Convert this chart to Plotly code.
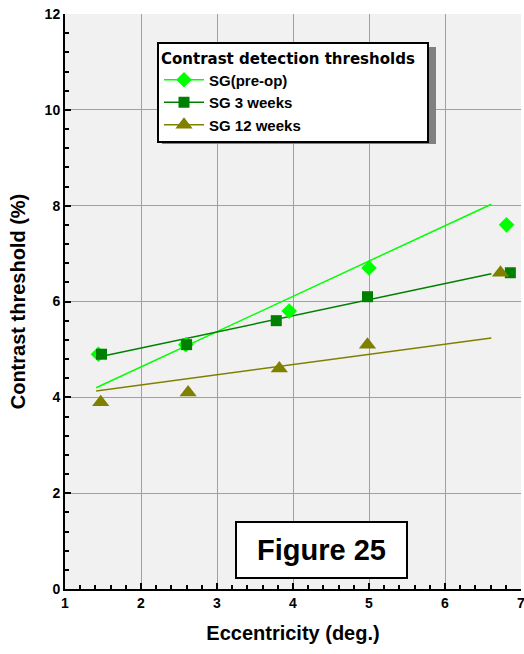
import plotly.graph_objects as go

# ---- data ----
ecc_preop = [1.44, 2.59, 3.95, 5.00, 6.81]
thr_preop = [4.9, 5.1, 5.8, 6.7, 7.6]
ecc_3w = [1.48, 2.60, 3.78, 4.98, 6.86]
thr_3w = [4.9, 5.1, 5.6, 6.1, 6.6]
ecc_12w = [1.47, 2.62, 3.82, 4.98, 6.73]
thr_12w = [3.9, 4.1, 4.6, 5.1, 6.6]

fit_x = [1.41, 6.61]
fit_preop = [4.2, 8.03]
fit_3w = [4.83, 6.58]
fit_12w = [4.13, 5.24]

series_names = ["SG(pre-op)", "SG 3 weeks", "SG 12 weeks"]
x_ticks = [1, 2, 3, 4, 5, 6, 7]
y_ticks = [0, 2, 4, 6, 8, 10, 12]

C_PRE = "#00ff00"
C_3W = "#008000"
C_12W = "#808000"
FONT = "Liberation Sans, Arial, sans-serif"

fig = go.Figure()

# fit lines
for fy, c in [(fit_preop, C_PRE), (fit_3w, C_3W), (fit_12w, C_12W)]:
    fig.add_trace(go.Scatter(x=fit_x, y=fy, mode="lines",
                             line=dict(color=c, width=1.5),
                             showlegend=False, hoverinfo="skip"))

# data markers
specs = [
    (ecc_preop, thr_preop, C_PRE, "diamond", 12),
    (ecc_3w, thr_3w, C_3W, "square", 11),
    (ecc_12w, thr_12w, C_12W, "triangle-up", 15),
]
for (ex, ty, c, sym, sz), name in zip(specs, series_names):
    fig.add_trace(go.Scatter(x=ex, y=ty, mode="markers",
                             marker=dict(color=c, symbol=sym, size=sz, line=dict(width=0)),
                             showlegend=False, name=name))

# legend entries (line + marker)
for (ex, ty, c, sym, sz), name in zip(specs, series_names):
    fig.add_trace(go.Scatter(x=[None], y=[None], mode="lines+markers",
                             name="<b>" + name + "</b>",
                             marker=dict(color=c, symbol=sym, size=sz, line=dict(width=0)),
                             line=dict(color=c, width=1.5)))

L, R, T, B = 65, 3, 14, 65
W, H = 524, 654
pw, ph = W - L - R, H - T - B

def px2paper(px, py):
    return (px - L) / pw, (H - B - py) / ph

lx, ly = px2paper(157, 42)
sx0, sy1 = px2paper(162, 47)
sx1, sy0 = px2paper(436, 144)

fig.add_shape(type="rect", xref="paper", yref="paper", x0=sx0, x1=sx1, y0=sy0, y1=sy1,
              fillcolor="#808080", line=dict(width=0), layer="above")

ax, ay = px2paper(321.5, 550)
fig.add_annotation(x=ax, y=ay, xref="paper", yref="paper", text="<b>Figure 25</b>",
                   showarrow=False, font=dict(family=FONT, size=29, color="black"),
                   bgcolor="white", bordercolor="black", borderwidth=2, borderpad=0,
                   width=169, height=54, xanchor="center", yanchor="middle")

axis_common = dict(
    showgrid=True, gridcolor="#a0a0a0", gridwidth=1.2,
    zeroline=False, showline=True, linecolor="black", linewidth=2,
    ticks="inside", ticklen=6, tickcolor="black", tickwidth=2,
    tickfont=dict(family=FONT, size=14, color="black"),
    ticklabeloverflow="allow", automargin=False,
)

fig.update_layout(
    width=W, height=H,
    margin=dict(l=L, r=R, t=T, b=B),
    paper_bgcolor="white", plot_bgcolor="#f1f1f1",
    font=dict(family=FONT, color="black"),
    xaxis=dict(range=[1, 7], tickvals=x_ticks, ticktext=["<b>%d</b>" % v for v in x_ticks],
               title=dict(text="<b>Eccentricity (deg.)</b>", font=dict(size=20), standoff=16),
               minor=dict(ticks="inside", dtick=0.2, tick0=1, ticklen=4, tickcolor="black",
                          tickwidth=1.5, showgrid=False),
               **axis_common),
    yaxis=dict(range=[0, 12], tickvals=y_ticks, ticktext=["<b>%d</b>" % v for v in y_ticks],
               title=dict(text="<b>Contrast threshold (%)</b>", font=dict(size=20), standoff=14),
               minor=dict(ticks="inside", dtick=0.4, tick0=0, ticklen=4, tickcolor="black",
                          tickwidth=1.5, showgrid=False),
               **axis_common),
    legend=dict(x=lx, y=ly, xanchor="left", yanchor="top",
                bgcolor="white", bordercolor="black", borderwidth=2,
                font=dict(family=FONT, size=15, color="black"),
                title=dict(text="<b>Contrast detection thresholds</b>&nbsp;&nbsp;",
                           font=dict(family="DejaVu Sans", size=15, color="black")),
                itemwidth=40, tracegroupgap=0),
)

fig.write_html("out.html")
